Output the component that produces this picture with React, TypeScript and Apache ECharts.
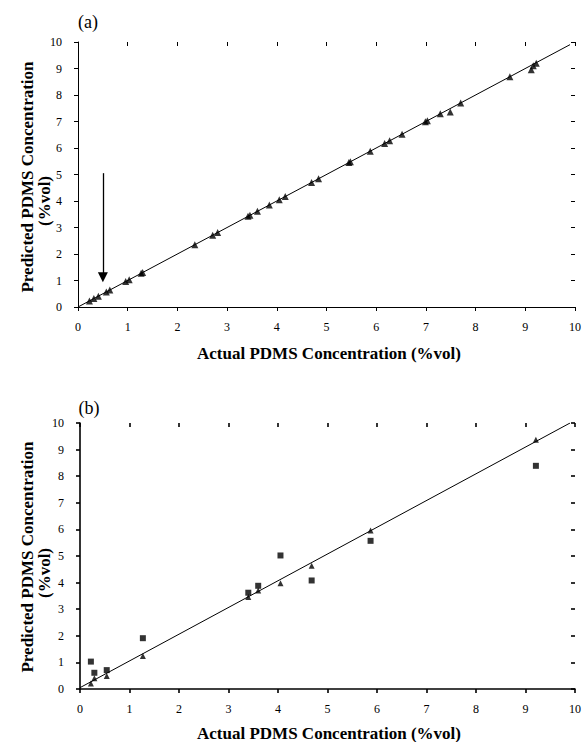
import React, { useEffect, useRef } from "react";
import * as echarts from "echarts";

// Panel (a): calibration points (triangles)
const aActual = [0.23, 0.32, 0.41, 0.57, 0.64, 0.96, 1.03, 1.27, 1.3, 2.35, 2.71, 2.81, 3.42, 3.46, 3.61, 3.85, 4.05, 4.17, 4.7, 4.84, 5.45, 5.48, 5.88, 6.17, 6.27, 6.52, 6.99, 7.03, 7.29, 7.49, 7.7, 8.69, 9.12, 9.16, 9.22];
const aPredicted = [0.23, 0.32, 0.41, 0.57, 0.64, 0.96, 1.03, 1.27, 1.3, 2.35, 2.71, 2.81, 3.42, 3.46, 3.61, 3.85, 4.05, 4.17, 4.7, 4.84, 5.45, 5.48, 5.88, 6.17, 6.27, 6.52, 6.99, 7.03, 7.29, 7.36, 7.7, 8.69, 8.95, 9.1, 9.2];
const aFitLine = [[0, 0], [9.9, 9.9]];
const aArrow = [[0.5, 5.05], [0.5, 1.12]];

// Panel (b): triangles and squares
const bActual = [0.22, 0.29, 0.54, 1.27, 3.4, 3.6, 4.05, 4.68, 5.87, 9.21];
const bTriangle = [0.21, 0.4, 0.49, 1.24, 3.46, 3.7, 3.98, 4.63, 5.96, 9.37];
const bSquare = [1.03, 0.61, 0.71, 1.91, 3.62, 3.88, 5.02, 4.08, 5.57, 8.39];
const bFitLine = [[0, 0.05], [9.9, 10.0]];

const yTitle = "Predicted PDMS Concentration";
const yUnit = "(%vol)";
const xTitle = "Actual PDMS Concentration (%vol)";
const panelLabels = ["(a)", "(b)"];

const SERIF = "'Liberation Serif', 'DejaVu Serif', serif";

export default function App() {
  const ref = useRef<HTMLDivElement>(null);
  useEffect(() => {
    if (!ref.current) return;
    const chart = echarts.init(ref.current, undefined, { renderer: "svg" });
    const grids = [
      { left: 78, top: 42, width: 499, height: 265 },
      { left: 80, top: 423, width: 496, height: 266 },
    ];
    const lw = [1, 1.6];
    const mkX = (i: number, inside: boolean) => ({
      type: "value",
      gridIndex: i,
      min: 0,
      max: 10,
      interval: 1,
      splitLine: { show: false },
      axisLine: { show: !inside, onZero: false, lineStyle: { color: "#000", width: lw[i] } },
      axisTick: { show: true, inside, length: 4, lineStyle: { color: "#000", width: lw[i] } },
      axisLabel: { show: !inside, color: "#000", fontFamily: SERIF, fontSize: 12, margin: 14 },
    });
    const mkY = (i: number, inside: boolean) => ({
      type: "value",
      gridIndex: i,
      min: 0,
      max: 10,
      interval: 1,
      splitLine: { show: false },
      axisLine: { show: !inside, onZero: false, lineStyle: { color: "#000", width: lw[i] } },
      axisTick: { show: true, inside, length: 4, lineStyle: { color: "#000", width: lw[i] } },
      axisLabel: { show: !inside, color: "#000", fontFamily: SERIF, fontSize: 12, margin: 16 },
    });
    const txt = (text: string, x: number, y: number, size: number, bold: boolean, rot = 0) => ({
      type: "text",
      x,
      y,
      rotation: rot,
      style: {
        text,
        fill: "#000",
        font: `${bold ? "bold " : ""}${size}px ${SERIF}`,
        textAlign: "center",
        textVerticalAlign: "middle",
      },
    });
    chart.setOption({
      animation: false,
      backgroundColor: "#fff",
      grid: grids,
      xAxis: [mkX(0, false), mkX(1, false), mkX(0, true), mkX(1, true)],
      yAxis: [mkY(0, false), mkY(1, false), mkY(0, true), mkY(1, true)],
      series: [
        {
          type: "line",
          xAxisIndex: 0,
          yAxisIndex: 0,
          data: aFitLine,
          symbol: "none",
          lineStyle: { color: "#000", width: 1 },
          markLine: {
            silent: true,
            symbol: ["none", "triangle"],
            symbolSize: 10,
            label: { show: false },
            lineStyle: { color: "#000", width: 1.3, type: "solid" },
            data: [[{ coord: aArrow[0] }, { coord: aArrow[1] }]],
          },
        },
        {
          type: "scatter",
          xAxisIndex: 0,
          yAxisIndex: 0,
          symbol: "triangle",
          symbolSize: 7,
          itemStyle: { color: "#000" },
          data: aActual.map((x, k) => [x, aPredicted[k]]),
        },
        {
          type: "line",
          xAxisIndex: 1,
          yAxisIndex: 1,
          data: bFitLine,
          symbol: "none",
          lineStyle: { color: "#000", width: 1 },
        },
        {
          type: "scatter",
          xAxisIndex: 1,
          yAxisIndex: 1,
          symbol: "triangle",
          symbolSize: 6,
          itemStyle: { color: "#000" },
          data: bActual.map((x, k) => [x, bTriangle[k]]),
        },
        {
          type: "scatter",
          xAxisIndex: 1,
          yAxisIndex: 1,
          symbol: "rect",
          symbolSize: 6,
          itemStyle: { color: "#000" },
          data: bActual.map((x, k) => [x, bSquare[k]]),
        },
      ],
      graphic: [
        txt(panelLabels[0], 88, 22, 18, false),
        txt(panelLabels[1], 89, 408, 18, false),
        txt(xTitle, 329, 353, 17, true),
        txt(xTitle, 329, 733, 17, true),
        txt(yTitle, 27, 177, 17, true, Math.PI / 2),
        txt(yUnit, 44, 201, 17, true, Math.PI / 2),
        txt(yTitle, 27, 557, 17, true, Math.PI / 2),
        txt(yUnit, 44, 573, 17, true, Math.PI / 2),
      ],
    });
    return () => chart.dispose();
  }, []);
  return (
    <div
      ref={ref}
      style={{ position: "fixed", left: 0, top: 0, width: 584, height: 742, background: "#fff" }}
    />
  );
}
